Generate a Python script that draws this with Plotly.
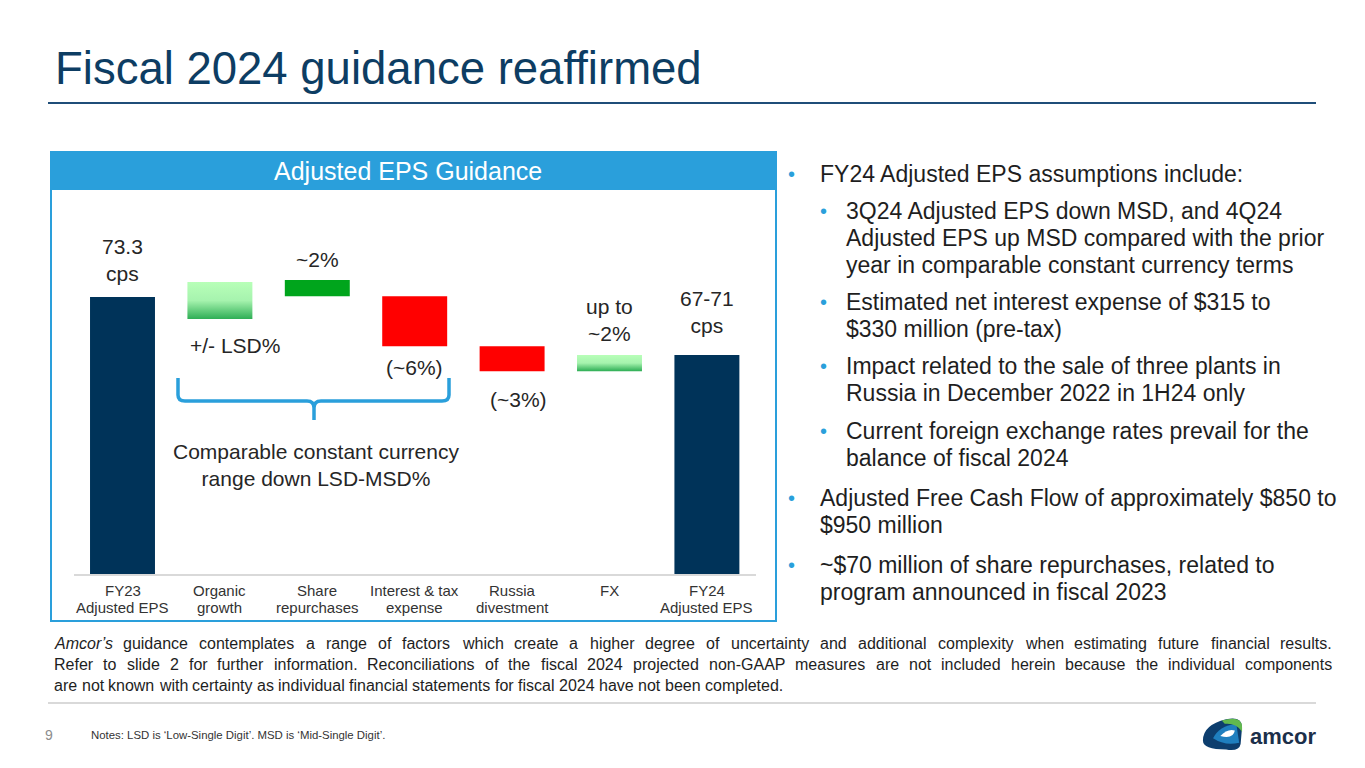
import plotly.graph_objects as go

W, H = 1365, 768

# ---------------- data ----------------
categories = ["FY23<br>Adjusted EPS", "Organic<br>growth", "Share<br>repurchases",
              "Interest & tax<br>expense", "Russia<br>divestment", "FX", "FY24<br>Adjusted EPS"]
bar_base = [0, 67.5, 73.5, 60.3, 53.7, 53.7, 0]
bar_top = [73.3, 77.3, 77.8, 73.5, 60.3, 58.0, 58.0]
bar_labels = ["73.3<br>cps", "+/- LSD%", "~2%", "(~6%)", "(~3%)", "up to<br>~2%", "67-71<br>cps"]

bullets = [
    (1, ["FY24 Adjusted EPS assumptions include:"]),
    (2, ["3Q24 Adjusted EPS down MSD, and 4Q24",
         "Adjusted EPS up MSD compared with the prior",
         "year in comparable constant currency terms"]),
    (2, ["Estimated net interest expense of $315 to",
         "$330 million (pre-tax)"]),
    (2, ["Impact related to the sale of three plants in",
         "Russia in December 2022 in 1H24 only"]),
    (2, ["Current foreign exchange rates prevail for the",
         "balance of fiscal 2024"]),
    (1, ["Adjusted Free Cash Flow of approximately $850 to",
         "$950 million"]),
    (1, ["~$70 million of share repurchases, related to",
         "program announced in fiscal 2023"]),
]

disclaimer = [
    "Amcor’s guidance contemplates a range of factors which create a higher degree of uncertainty and additional complexity when estimating future financial results.",
    "Refer to slide 2 for further information.  Reconciliations of the fiscal 2024 projected non-GAAP measures are not included herein because the individual components",
    "are not known with certainty as individual financial statements for fiscal 2024 have not been completed.",
]

# ---------------- styles ----------------
FONT = "Liberation Sans, Arial, sans-serif"
NAVY = "#003359"
TITLE_C = "#0d3d63"
BLUE = "#2a9fdb"
TXT = "#1e1e1e"
bar_kind = ["total", "grad", "green", "red", "red", "grad", "total"]
kind_color = {"total": NAVY, "green": "#00a51c", "red": "#ff0000"}
label_side = ["above", "below", "above", "below", "below", "above", "above"]
label_shift = [(0, 10), (15, -13), (0, 7), (0, -8), (6, -15), (0, 8), (0, 16)]
BAR_W = 0.667
OFF = 8  # page body margin in the browser

def px(x):
    return (x - OFF) / W

def py(y):
    return 1 - (y - OFF) / H

fig = go.Figure()

# solid bars
idx = [i for i, k in enumerate(bar_kind) if k != "grad"]
fig.add_trace(go.Bar(
    x=idx, y=[bar_top[i] - bar_base[i] for i in idx], base=[bar_base[i] for i in idx],
    width=BAR_W, marker=dict(color=[kind_color[bar_kind[i]] for i in idx], line=dict(width=0)),
    hoverinfo="skip", showlegend=False))

# gradient bars
for i, k in enumerate(bar_kind):
    if k != "grad":
        continue
    hw = BAR_W / 2
    b, t = bar_base[i], bar_top[i]
    fig.add_trace(go.Scatter(
        x=[i - hw, i + hw, i + hw, i - hw, i - hw], y=[b, b, t, t, b],
        fill="toself", mode="lines", line=dict(width=0, color="rgba(0,0,0,0)"),
        fillgradient=dict(type="vertical",
                          colorscale=[[0, "#2eae55"], [0.5, "#a6f3ae"], [1, "#b8ffb8"]]),
        hoverinfo="skip", showlegend=False))

ann = []
# bar labels
for i, lab in enumerate(bar_labels):
    above = label_side[i] == "above"
    dx, dy = label_shift[i]
    ann.append(dict(x=i, y=bar_top[i] if above else bar_base[i], xref="x", yref="y",
                    text=lab, showarrow=False, xanchor="center",
                    yanchor="bottom" if above else "top", xshift=dx, yshift=dy,
                    font=dict(family=FONT, size=21, color="#262626")))

# category labels (two lines each, tight spacing)
for i, c in enumerate(categories):
    parts = c.split("<br>")
    for j, p in enumerate(parts):
        ann.append(dict(x=i, y=py(590 + 17 * j), xref="x", yref="paper", text=p,
                        showarrow=False, xanchor="center", yanchor="middle",
                        font=dict(family=FONT, size=15, color="#333333")))

ann.append(dict(x=px(316), y=py(465), xref="paper", yref="paper",
                text="Comparable constant currency<br>range down LSD-MSD%",
                showarrow=False, xanchor="center", yanchor="middle",
                font=dict(family=FONT, size=21, color="#262626")))

# header
ann.append(dict(x=px(408), y=py(171), xref="paper", yref="paper", text="Adjusted EPS Guidance",
                showarrow=False, xanchor="center", yanchor="middle",
                font=dict(family=FONT, size=25, color="white")))

# title
ann.append(dict(x=px(53), y=py(68), xref="paper", yref="paper",
                text="Fiscal 2024 guidance reaffirmed", showarrow=False,
                xanchor="left", yanchor="middle",
                font=dict(family=FONT, size=45.5, color=TITLE_C)))

# right bullets
starts = [174, 211, 302, 366, 431, 498, 565]
for (lvl, lines), y0 in zip(bullets, starts):
    bx, tx = (786, 818) if lvl == 1 else (818, 844)
    ann.append(dict(x=px(bx), y=py(y0), xref="paper", yref="paper", text="•",
                    showarrow=False, xanchor="left", yanchor="middle",
                    font=dict(family=FONT, size=20, color=BLUE)))
    for j, ln in enumerate(lines):
        ann.append(dict(x=px(tx), y=py(y0 + 27 * j), xref="paper", yref="paper", text=ln,
                        showarrow=False, xanchor="left", yanchor="middle",
                        font=dict(family=FONT, size=23, color=TXT)))

# disclaimer, justified word by word using Arial metrics
AW = {' ': 278, '!': 278, '"': 355, '#': 556, '$': 556, '%': 889, '&': 667, "'": 191, '(': 333,
      ')': 333, '*': 389, '+': 584, ',': 278, '-': 333, '.': 278, '/': 278, ':': 278, ';': 278,
      '?': 556, '’': 222, 'A': 667, 'B': 667, 'C': 722, 'D': 722, 'E': 667, 'F': 611, 'G': 778,
      'H': 722, 'I': 278, 'J': 500, 'K': 667, 'L': 556, 'M': 833, 'N': 722, 'O': 778, 'P': 667,
      'Q': 778, 'R': 722, 'S': 667, 'T': 611, 'U': 722, 'V': 667, 'W': 944, 'X': 667, 'Y': 667,
      'Z': 611, 'a': 556, 'b': 556, 'c': 500, 'd': 556, 'e': 556, 'f': 278, 'g': 556, 'h': 556,
      'i': 222, 'j': 222, 'k': 500, 'l': 222, 'm': 833, 'n': 556, 'o': 556, 'p': 556, 'q': 556,
      'r': 333, 's': 500, 't': 278, 'u': 556, 'v': 500, 'w': 722, 'x': 500, 'y': 500, 'z': 500}
for d in "0123456789":
    AW[d] = 556

DFS = 16
def tw(s):
    return sum(AW.get(ch, 556) for ch in s) * DFS / 1000.0

L, R = 52, 1330
for li, line in enumerate(disclaimer):
    y = py(643 + 21 * li)
    words = line.split()
    if li < len(disclaimer) - 1:
        total = sum(tw(w) for w in words)
        gap = (R - L - total) / (len(words) - 1)
    else:
        gap = tw(" ")
    x = L
    for wi, w in enumerate(words):
        txt = w
        if li == 0 and wi == 0:
            txt = "<i>" + w + "</i>"
        ann.append(dict(x=px(x), y=y, xref="paper", yref="paper", text=txt, showarrow=False,
                        xanchor="left", yanchor="middle",
                        font=dict(family=FONT, size=DFS, color=TXT)))
        x += tw(w) + gap

# footer
ann.append(dict(x=px(43), y=py(735), xref="paper", yref="paper", text="9", showarrow=False,
                xanchor="left", yanchor="middle", font=dict(family=FONT, size=14, color="#8c8c8c")))
ann.append(dict(x=px(89), y=py(735), xref="paper", yref="paper",
                text="Notes: LSD is ‘Low-Single Digit’. MSD is ‘Mid-Single Digit’.", showarrow=False,
                xanchor="left", yanchor="middle", font=dict(family=FONT, size=11.4, color="#333333")))
ann.append(dict(x=px(1248), y=py(736), xref="paper", yref="paper", text="<b>amcor</b>",
                showarrow=False, xanchor="left", yanchor="middle",
                font=dict(family=FONT, size=22, color="#1c2f4a")))

# logo icon drawn around a centre point, scaled
LC = (1222.5, 735.0)
LS = (1.45, 1.12)

def path(cmds, logo=False):
    out = []
    for c in cmds:
        if isinstance(c, str):
            out.append(c)
        else:
            x, y = c
            if logo:
                x = LC[0] + (x - LC[0]) * LS[0]
                y = LC[1] + (y - LC[1]) * LS[1]
            out.append(f"{px(x):.5f},{py(y):.5f}")
    return " ".join(out)

shapes = [
    # title underline
    dict(type="line", xref="paper", yref="paper", x0=px(48), x1=px(1316), y0=py(103), y1=py(103),
         line=dict(color="#1f4e79", width=2)),
    # chart box
    dict(type="rect", xref="paper", yref="paper", x0=px(51), x1=px(776), y0=py(621), y1=py(152),
         line=dict(color=BLUE, width=2), fillcolor="rgba(0,0,0,0)", layer="below"),
    # header bar
    dict(type="rect", xref="paper", yref="paper", x0=px(50), x1=px(777), y0=py(190), y1=py(151),
         line=dict(width=0), fillcolor=BLUE),
    # gray separator
    dict(type="line", xref="paper", yref="paper", x0=px(48), x1=px(1316), y0=py(703), y1=py(703),
         line=dict(color="#d9d9d9", width=2)),
    # brace
    dict(type="path", xref="paper", yref="paper",
         path=path(["M", (178, 378), "L", (178, 395), "Q", (178, 401), (185, 401), "L", (307, 401),
                    "Q", (314, 401), (314, 408), "L", (314, 420),
                    "M", (314, 408), "Q", (314, 401), (321, 401), "L", (442, 401),
                    "Q", (449, 401), (449, 395), "L", (449, 378)]),
         line=dict(color=BLUE, width=3.5)),
    # logo icon: outer dark blob
    dict(type="path", xref="paper", yref="paper",
         path=path(["M", (1209, 740), "Q", (1209, 726), (1225, 721), "Q", (1236, 718), (1236, 728),
                    "L", (1235, 743), "Q", (1234, 750), (1225, 748), "Q", (1209, 748), (1209, 740), "Z"],
                   logo=True),
         fillcolor="#0d3e6e", line=dict(width=0)),
    # lighter blue middle
    dict(type="path", xref="paper", yref="paper",
         path=path(["M", (1216, 738), "Q", (1220, 727), (1232, 725), "L", (1234, 742),
                    "Q", (1224, 745), (1216, 738), "Z"], logo=True),
         fillcolor="#1f7fbf", line=dict(width=0)),
    # green top-right
    dict(type="path", xref="paper", yref="paper",
         path=path(["M", (1222, 722), "Q", (1236, 717), (1236, 728), "L", (1236, 732),
                    "Q", (1232, 724), (1224, 725), "Z"], logo=True),
         fillcolor="#62b94e", line=dict(width=0)),
    # white lens
    dict(type="path", xref="paper", yref="paper",
         path=path(["M", (1221, 736), "Q", (1226, 729), (1231, 731), "Q", (1230, 739), (1221, 736), "Z"],
                   logo=True),
         fillcolor="#ffffff", line=dict(width=0)),
]

fig.update_layout(
    width=W, height=H, margin=dict(l=0, r=0, t=0, b=0),
    paper_bgcolor="white", plot_bgcolor="white",
    barmode="overlay", showlegend=False,
    xaxis=dict(domain=[px(73.8), px(755.6)], range=[-0.5, 6.5], showgrid=False, zeroline=False,
               showticklabels=False, ticks="", showline=True, linecolor="#d9d9d9", linewidth=2,
               fixedrange=True),
    yaxis=dict(domain=[py(574), py(200)], range=[0, 99], visible=False, fixedrange=True),
    annotations=ann, shapes=shapes,
)

fig.write_html("out.html")
